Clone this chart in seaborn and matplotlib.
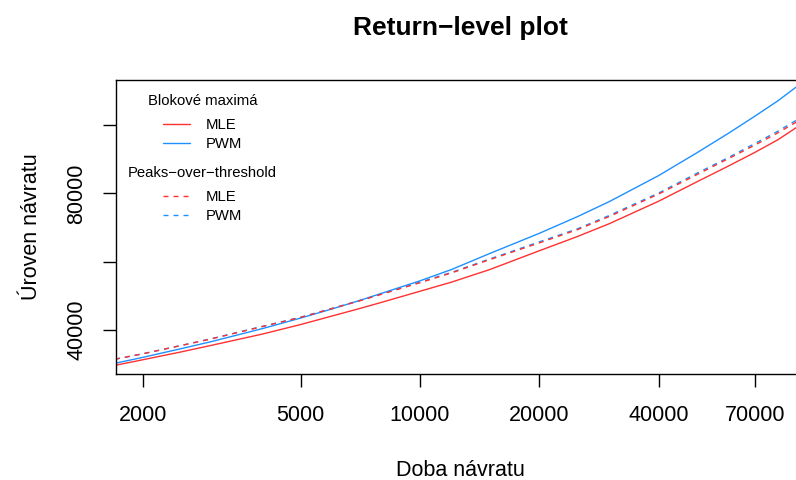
import matplotlib
matplotlib.use("Agg")
import matplotlib.pyplot as plt
from matplotlib.lines import Line2D
import seaborn as sns
import pandas as pd

# Return periods (x) and return levels (y)
periods = [1700, 2000, 2500, 3000, 4000, 5000, 6000, 7000, 8000, 10000, 12000, 15000,
           20000, 25000, 30000, 40000, 50000, 60000, 70000, 80000, 93000]
bm_mle = [29650, 31300, 33600, 35600, 38800, 41600, 44100, 46200, 48100, 51350, 54000, 57700,
          63200, 67400, 71100, 77700, 83400, 88000, 92000, 95700, 100700]
bm_pwm = [30250, 32000, 34550, 36700, 40400, 43500, 46170, 48550, 50740, 54400, 57690, 62400,
          68300, 73220, 77560, 85200, 91900, 97580, 102600, 107100, 112800]
pot_mle = [31450, 33050, 35470, 37500, 41000, 43700, 46270, 48450, 50470, 53850, 56700, 60600,
           65500, 69400, 73200, 79800, 85500, 90160, 94150, 97720, 102160]
pot_pwm = [31450, 33050, 35490, 37550, 41050, 43750, 46320, 48550, 50560, 54000, 56850, 60800,
           65800, 69650, 73500, 80100, 85900, 90500, 94600, 98200, 102700]

xticks = [2000, 5000, 10000, 20000, 40000, 70000]
yticks = [40000, 60000, 80000, 100000]
ytick_labels = ["40000", "", "80000", ""]

RED = "#FF3030"
BLUE = "#1E90FF"

sns.set_style("white")
plt.rcParams["font.family"] = ["Liberation Sans", "DejaVu Sans"]
plt.rcParams["text.color"] = "black"
plt.rcParams["axes.labelcolor"] = "black"

W, H = 796, 480
fig = plt.figure(figsize=(W / 100, H / 100), dpi=100)
left, right, top, bottom = 116, 805, 80, 374
ax = fig.add_axes([left / W, 1 - bottom / H, (right - left) / W, (bottom - top) / H])

df = pd.DataFrame({"T": periods, "bm_mle": bm_mle, "bm_pwm": bm_pwm,
                   "pot_mle": pot_mle, "pot_pwm": pot_pwm})

dash = (0, (3.6, 3.6))
sns.lineplot(data=df, x="T", y="bm_mle", ax=ax, color=RED, lw=1.0)
sns.lineplot(data=df, x="T", y="bm_pwm", ax=ax, color=BLUE, lw=1.0)
sns.lineplot(data=df, x="T", y="pot_pwm", ax=ax, color=BLUE, lw=1.0, linestyle=dash)
sns.lineplot(data=df, x="T", y="pot_mle", ax=ax, color=RED, lw=1.0, linestyle=dash)

ax.set_xscale("log")
ax.set_xlim(10 ** 3.233, 10 ** 4.9716)
ax.set_ylim(27120, 113200)
ax.set_xticks(xticks)
ax.set_xticklabels([str(v) for v in xticks])
ax.xaxis.set_minor_locator(matplotlib.ticker.NullLocator())
ax.set_yticks(yticks)
ax.set_yticklabels(ytick_labels, rotation=90, va="center")

for s in ax.spines.values():
    s.set_color("black")
    s.set_linewidth(1.0)

ax.tick_params(axis="both", which="major", direction="out", length=9.5, width=1.0,
               color="black", labelsize=15.5, labelcolor="black", bottom=True, left=True)
ax.tick_params(axis="x", pad=13)
ax.tick_params(axis="y", pad=11)

ax.set_xlabel("Doba návratu", fontsize=15.5, labelpad=24, color="black")
ax.set_ylabel("Úroven návratu", fontsize=15.5, labelpad=18, color="black")
fig.text(460.5 / W, 1 - 28 / H, "Return\u2212level plot", fontsize=19, fontweight="bold",
         ha="center", va="center", color="black")

lfs = 10.7
h1 = [Line2D([], [], color=RED, lw=1.0), Line2D([], [], color=BLUE, lw=1.0)]
h2 = [Line2D([], [], color=RED, lw=1.0, linestyle=dash), Line2D([], [], color=BLUE, lw=1.0, linestyle=dash)]
common = dict(loc="upper center", bbox_transform=fig.transFigure, frameon=False,
              fontsize=lfs, title_fontsize=lfs, handlelength=1.8, handletextpad=1.1,
              labelspacing=0.3, borderpad=0, borderaxespad=0, labelcolor="black")
leg1 = ax.legend(h1, ["MLE", "PWM"], title="Blokové maximá",
                 bbox_to_anchor=(202.5 / W, 1 - 94 / H), **common)
leg1._legend_box.sep = 7.5
leg1.get_title().set_color("black")
ax.add_artist(leg1)
leg2 = ax.legend(h2, ["MLE", "PWM"], title="Peaks\u2212over\u2212threshold",
                 bbox_to_anchor=(202.5 / W, 1 - 166 / H), **common)
leg2._legend_box.sep = 7.5
leg2.get_title().set_color("black")

fig.savefig("out.png", dpi=100)
